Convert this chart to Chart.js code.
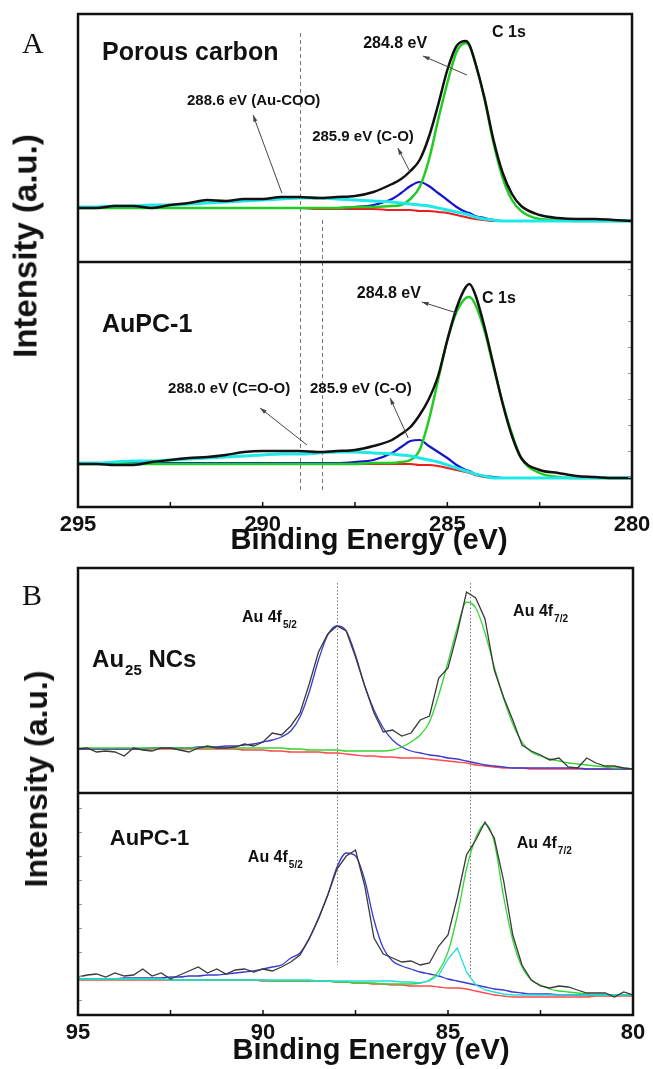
<!DOCTYPE html>
<html>
<head>
<meta charset="utf-8">
<script src="https://cdn.jsdelivr.net/npm/chart.js@4.4.1/dist/chart.umd.min.js"></script>
<style>
  body { margin: 0; background: #fff; }
  #wrap { position: relative; width: 653px; height: 1069px; overflow: hidden; }
  canvas { position: absolute; left: 0; }
  .ytitle { position: absolute; white-space: nowrap; font-family: 'Liberation Sans', Arial, sans-serif; font-weight: bold; line-height: 1; color: #111;
            transform: translate(-50%, -50%) rotate(-90deg); }
</style>
</head>
<body>
<div id="wrap">
  <canvas id="aTop" width="653" height="262" style="top:0px"></canvas>
  <canvas id="aBot" width="653" height="300" style="top:262px"></canvas>
  <canvas id="bTop" width="653" height="253" style="top:540px"></canvas>
  <canvas id="bBot" width="653" height="276" style="top:793px"></canvas>
  <div class="ytitle" style="left:25px;top:246px;font-size:33px">Intensity (a.u.)</div>
  <div class="ytitle" style="left:36px;top:779px;font-size:32px">Intensity (a.u.)</div>
</div>
<script>
// ---- panel A: C 1s ----
const energyA = [295, 294.5, 294, 293.5, 293, 292.5, 292, 291.5, 291, 290.5, 290, 289.5, 289, 288.5, 288, 287.5,
  287, 286.5, 286.25, 286, 285.75, 285.5, 285.25, 285, 284.75, 284.5, 284.4, 284.25, 284, 283.75, 283.5, 283.25, 283,
  282.5, 282, 281.5, 281, 280.5, 280];

const aTopBlack = [54,54,56,56,54,57,59,62,61,63,63,65,65,64,65,66, 70,78,83,91,102,125,157,192,216,221,217,200,165,122,89,68,56, 47,44,43,43,42,41];
const aTopCyan  = [55,55,56,56,57,57,58,59,60,61,62,63,64,64,63,62, 61,60,59,58,57,56,54,52,50,48,47,45,43,42,41,41,41, 41,41,41,41,41,41];
const aTopGreen = [54,54,54,54,54,54,54,54,54,54,54,54,54,54,54,55, 55,56,57,63,75,102,142,179,210,219,216,200,164,119,84,62,51, 43,42,41,41,41,41];
const aTopBlue  = [54,54,54,54,54,54,54,54,54,54,54,54,54,54,54,55, 57,63,69,76,80,76,69,62,55,50,49,46,44,42,41,41,41, 41,41,41,41,41,41];
const aTopRed   = [54,54,54,54,54,54,54,54,54,54,54,54,54,53,53,53, 53,52,52,52,51,51,50,49,47,45,44,43,42,41,41,41,41, 41,41,41,41,41,41];

const aBotBlack = [43,43,42,42,45,47,49,50,52,55,56,56,56,55,56,57, 61,67,73,80,92,108,131,167,199,220,223,213,181,142,103,71,49, 37,34,31,30,29,29];
const aBotCyan  = [44,44,45,46,46,47,48,49,50,51,52,53,53,54,55,55, 54,53,52,51,49,47,45,42,39,36,35,33,31,29,29,29,29, 29,29,29,29,29,29];
const aBotGreen = [43,43,43,43,43,43,43,43,43,43,43,43,43,43,43,43, 44,44,45,47,57,87,127,167,195,209,210,203,177,140,104,73,49, 34,30,29,29,29,29];
const aBotBlue  = [44,44,44,44,44,44,44,44,44,44,44,44,44,44,44,45, 47,54,60,66,67,61,55,49,42,37,36,33,31,30,29,29,29, 29,29,29,29,29,29];
const aBotRed   = [43,43,43,43,43,43,43,43,43,43,43,43,43,43,43,43, 43,43,43,43,42,42,41,39,37,35,34,32,30,29,29,29,29, 29,29,29,29,29,29];

const ticksA = [295, 292.5, 290, 287.5, 285, 282.5, 280];
const tickLabelsA = [295, 290, 285, 280];
const minorYA = [30, 56, 82, 108, 134, 160, 186, 212, 238];

// ---- panel B: Au 4f ----
const energyB = [95, 94.75, 94.5, 94.25, 94, 93.75, 93.5, 93.25, 93, 92.75, 92.5, 92.25, 92, 91.75, 91.5, 91.25,
  91, 90.75, 90.5, 90.25, 90, 89.75, 89.5, 89.25, 89, 88.75, 88.5, 88.25, 88, 87.75, 87.5, 87.25, 87, 86.75, 86.5, 86.25,
  86, 85.75, 85.5, 85.25, 85, 84.75, 84.5, 84.25, 84, 83.75, 83.5, 83.25, 83, 82.75, 82.5, 82.25, 82, 81.75, 81.5, 81.25,
  81, 80.75, 80.5, 80.25, 80];

const bTopBlack = [44,45,41,42,41,37,45,43,42,45, 45,43,41,45,47,45,45,46,49,47, 51,60,58,67,80,109,141,159,167,162,
  136,107,80,61,63,57,60,73,77,115, 125,160,201,195,174,123,96,73,48,42, 38,33,35,26,25,35,30,27,27,25,24];
const bTopGreen = [45,45,45,45,45,45,45,45,45,45, 45,45,45,45,45,45,45,45,45,45, 45,45,45,44,44,43,43,43,43,42,
  42,42,42,42,43,46,51,58,71,98, 131,165,191,185,160,126,95,69,51,41, 37,34,32,30,29,28,27,26,25,25,24];
const bTopBlue  = [44,44,44,44,44,44,44,44,45,45, 45,45,45,46,46,46,47,47,48,49, 51,53,56,62,76,101,133,158,167,162,
  138,107,83,65,53,46,42,40,38,37, 35,34,32,30,28,27,26,25,25,25, 25,25,25,25,25,24,24,24,24,24,24];
const bTopRed   = [44,44,44,44,44,44,44,44,44,44, 44,44,44,44,44,44,44,44,43,43, 43,42,42,41,41,41,41,40,40,39,
  38,37,37,36,36,35,35,35,34,33, 32,31,30,28,27,26,25,25,25,24, 24,24,24,24,24,24,24,24,24,24,24];

const bBotBlack = [38,40,41,38,42,39,40,46,39,42, 36,40,44,48,42,46,41,45,46,43, 46,44,48,53,60,76,96,120,146,159,
  165,129,77,61,57,53,54,50,52,69, 80,117,160,175,193,177,135,80,50,35, 29,27,29,28,25,22,22,22,18,23,20];
const bBotCyan  = [36,36,36,36,36,36,36,36,36,36, 35,35,35,35,35,35,35,35,35,35, 35,35,35,35,35,35,34,34,34,34,
  34,34,34,34,34,33,33,32,34,40, 56,67,43,30,25,23,21,20,20,20, 20,20,20,20,20,20,20,20,20,20,20];
const bBotGreen = [36,36,36,36,36,36,36,36,36,36, 35,35,35,35,35,35,35,35,35,35, 35,34,34,34,34,34,34,34,33,33,
  32,32,32,31,31,31,31,32,35,44, 63,99,146,177,191,173,119,75,48,35, 30,26,24,23,22,21,20,20,20,20,20];
const bBotBlue  = [36,36,36,36,36,37,37,37,37,37, 38,38,39,39,40,40,41,42,43,44, 46,48,50,57,62,77,97,120,148,162,
  159,135,95,67,54,49,46,43,41,39, 36,34,32,30,28,26,25,23,22,21, 21,21,20,20,20,20,20,20,20,20,20];
const bBotRed   = [35,35,35,35,35,35,35,35,35,35, 35,35,35,35,35,35,35,35,35,35, 34,34,34,34,34,34,34,34,33,33,
  32,32,31,31,30,30,29,29,29,28, 27,27,26,24,22,20,19,18,18,18, 18,18,18,18,18,18,19,19,19,19,19];

const ticksB = [95, 92.5, 90, 87.5, 85, 82.5, 80];
const tickLabelsB = [95, 90, 85, 80];
const minorYB = [15, 39, 63, 87, 111, 135, 159, 183, 207];

const FONT = "'Liberation Sans', Arial, sans-serif";

// frame, ticks, reference lines, labels and arrows, all placed through the chart scales
const decor = {
  id: 'decor',
  beforeDatasetsDraw(chart, args, o) {
    const { ctx, scales: { x, y } } = chart;
    ctx.save();
    ctx.strokeStyle = o.refColor || '#777';
    ctx.lineWidth = 1;
    ctx.setLineDash(o.refDash || [4, 3]);
    (o.refs || []).forEach(r => {
      const px = Math.round(x.getPixelForValue(r.e)) + 0.5;
      ctx.beginPath();
      ctx.moveTo(px, y.getPixelForValue(r.from));
      ctx.lineTo(px, y.getPixelForValue(r.to));
      ctx.stroke();
    });
    ctx.restore();
  },
  afterDatasetsDraw(chart, args, o) {
    const { ctx, chartArea: a, scales: { x, y } } = chart;
    ctx.save();

    // faint inner y ticks on one side
    if (o.yTicks) {
      ctx.strokeStyle = '#999';
      ctx.lineWidth = 1;
      const edge = o.yTickSide === 'right' ? a.right : a.left;
      const dir = o.yTickSide === 'right' ? -1 : 1;
      o.yTicks.forEach(v => {
        const py = Math.round(y.getPixelForValue(v)) + 0.5;
        ctx.beginPath();
        ctx.moveTo(edge, py);
        ctx.lineTo(edge + dir * 4, py);
        ctx.stroke();
      });
    }

    ctx.strokeStyle = '#111';
    ctx.lineWidth = 2.5;
    ctx.strokeRect(a.left, a.top, a.right - a.left, a.bottom - a.top);

    if (o.ticks) {
      ctx.lineWidth = 1.5;
      o.ticks.forEach(t => {
        const px = x.getPixelForValue(t);
        ctx.beginPath();
        ctx.moveTo(px, a.bottom);
        ctx.lineTo(px, a.bottom - 5);
        ctx.stroke();
      });
      ctx.fillStyle = '#111';
      ctx.textAlign = 'center';
      ctx.textBaseline = 'alphabetic';
      ctx.font = 'bold 22px ' + FONT;
      o.tickLabels.forEach(t => ctx.fillText(String(t), x.getPixelForValue(t), a.bottom + 24));
      ctx.font = 'bold 29px ' + FONT;
      ctx.fillText('Binding Energy (eV)', o.titleX, a.bottom + o.titleDy);
    }

    ctx.strokeStyle = '#444';
    ctx.fillStyle = '#444';
    ctx.lineWidth = 1;
    (o.arrows || []).forEach(([e0, v0, e1, v1]) => {
      const x0 = x.getPixelForValue(e0), y0 = y.getPixelForValue(v0);
      const x1 = x.getPixelForValue(e1), y1 = y.getPixelForValue(v1);
      const ang = Math.atan2(y1 - y0, x1 - x0);
      ctx.beginPath();
      ctx.moveTo(x0, y0);
      ctx.lineTo(x1, y1);
      ctx.stroke();
      ctx.beginPath();
      ctx.moveTo(x1, y1);
      ctx.lineTo(x1 - 7 * Math.cos(ang - 0.3), y1 - 7 * Math.sin(ang - 0.3));
      ctx.lineTo(x1 - 7 * Math.cos(ang + 0.3), y1 - 7 * Math.sin(ang + 0.3));
      ctx.closePath();
      ctx.fill();
    });

    ctx.fillStyle = '#111';
    ctx.textAlign = 'left';
    (o.notes || []).forEach(n => {
      let px = x.getPixelForValue(n.e);
      const py = y.getPixelForValue(n.v);
      ctx.font = 'bold ' + n.size + 'px ' + FONT;
      ctx.fillText(n.t, px, py);
      if (n.sub) {
        px += ctx.measureText(n.t).width + 1;
        ctx.font = 'bold ' + n.subSize + 'px ' + FONT;
        ctx.fillText(n.sub, px, py + n.subDy);
        if (n.after) {
          px += ctx.measureText(n.sub).width;
          ctx.font = 'bold ' + n.size + 'px ' + FONT;
          ctx.fillText(n.after, px, py);
        }
      }
    });

    if (o.letter) {
      ctx.font = '30px "Liberation Serif", "Times New Roman", serif';
      ctx.fillText(o.letter.t, o.letter.x, o.letter.y);
    }
    ctx.restore();
  }
};

function line(data, energies, color, width, smooth) {
  return {
    data: data.map((v, i) => ({ x: energies[i], y: v })),
    borderColor: color,
    borderWidth: width,
    pointRadius: 0,
    fill: false,
    cubicInterpolationMode: smooth ? 'monotone' : 'default',
    tension: smooth ? 0.4 : 0
  };
}

function plot(id, datasets, xr, yMax, pad, decorOpts) {
  return new Chart(document.getElementById(id), {
    type: 'line',
    data: { datasets },
    options: {
      responsive: false,
      animation: false,
      devicePixelRatio: 1,
      layout: { padding: pad },
      scales: {
        x: { type: 'linear', min: xr[0], max: xr[1], reverse: true, display: false },
        y: { min: 0, max: yMax, display: false }
      },
      plugins: { legend: { display: false }, tooltip: { enabled: false }, decor: decorOpts }
    },
    plugins: [decor]
  });
}

// colours of panel A are saturated and heavy, panel B thin
const A = { black: '#111111', cyan: '#1ee8e8', green: '#22cc22', blue: '#1515cc', red: '#ee1c1c' };
const B = { black: '#3a3a3a', cyan: '#22dddd', green: '#33d633', blue: '#3a3ad0', red: '#ff4a4a' };

plot('aTop', [
  line(aTopBlack, energyA, A.black, 2.5, true),
  line(aTopCyan, energyA, A.cyan, 3, true),
  line(aTopGreen, energyA, A.green, 2.5, true),
  line(aTopBlue, energyA, A.blue, 2.2, true),
  line(aTopRed, energyA, A.red, 2, true)
], [280, 295], 248, { top: 14, left: 78, right: 21, bottom: 0 }, {
  refs: [{ e: 289.0, from: 229, to: 0 }, { e: 288.4, from: 42, to: 0 }],
  notes: [
    { t: 'Porous carbon', e: 294.35, v: 202, size: 25 },
    { t: '288.6 eV (Au-COO)', e: 292.05, v: 157, size: 15 },
    { t: '285.9 eV (C-O)', e: 288.66, v: 121, size: 15 },
    { t: '284.8 eV', e: 287.28, v: 214, size: 16 },
    { t: 'C 1s', e: 283.79, v: 225, size: 16 }
  ],
  arrows: [[289.48, 69, 290.26, 147], [286.01, 90, 286.34, 114], [284.47, 187, 285.66, 206]],
  letter: { t: 'A', x: 22, y: 53 }
});

plot('aBot', [
  line(aBotBlack, energyA, A.black, 2.5, true),
  line(aBotCyan, energyA, A.cyan, 3, true),
  line(aBotGreen, energyA, A.green, 2.5, true),
  line(aBotBlue, energyA, A.blue, 2.2, true),
  line(aBotRed, energyA, A.red, 2, true)
], [280, 295], 245, { top: 0, left: 78, right: 21, bottom: 55 }, {
  refs: [{ e: 289.0, from: 245, to: 14 }, { e: 288.4, from: 245, to: 14 }],
  notes: [
    { t: 'AuPC-1', e: 294.35, v: 175, size: 25 },
    { t: '284.8 eV', e: 287.45, v: 209, size: 16 },
    { t: 'C 1s', e: 284.06, v: 204, size: 16 },
    { t: '285.9 eV (C-O)', e: 288.72, v: 114, size: 15 },
    { t: '288.0 eV (C=O-O)', e: 292.56, v: 114, size: 15 }
  ],
  arrows: [[284.74, 194, 285.69, 205], [288.8, 62, 290.07, 99], [286.06, 69, 286.55, 109]],
  ticks: ticksA, tickLabels: tickLabelsA, titleX: 369, titleDy: 42,
  yTicks: minorYA, yTickSide: 'right'
});

plot('bTop', [
  line(bTopBlack, energyB, B.black, 1.3, false),
  line(bTopGreen, energyB, B.green, 1.3, true),
  line(bTopBlue, energyB, B.blue, 1.3, true),
  line(bTopRed, energyB, B.red, 1.3, true)
], [80, 95], 225, { top: 28, left: 78, right: 20, bottom: 0 }, {
  refs: [{ e: 88.0, from: 210, to: 0 }, { e: 84.4, from: 210, to: 0 }],
  refDash: [1.5, 2],
  notes: [
    { t: 'Au', sub: '25', after: ' NCs', e: 94.62, v: 126, size: 24, subSize: 15, subDy: 8 },
    { t: 'Au 4f', sub: '5/2', e: 90.57, v: 171, size: 16, subSize: 10, subDy: 6 },
    { t: 'Au 4f', sub: '7/2', e: 83.24, v: 177, size: 16, subSize: 10, subDy: 6 }
  ],
  letter: { t: 'B', x: 22, y: 65 }
});

plot('bBot', [
  line(bBotBlack, energyB, B.black, 1.3, false),
  line(bBotCyan, energyB, B.cyan, 1.3, false),
  line(bBotGreen, energyB, B.green, 1.3, true),
  line(bBotBlue, energyB, B.blue, 1.3, true),
  line(bBotRed, energyB, B.red, 1.3, true)
], [80, 95], 222, { top: 0, left: 78, right: 20, bottom: 54 }, {
  refs: [{ e: 88.0, from: 222, to: 50 }, { e: 84.4, from: 222, to: 38 }],
  refDash: [1.5, 2],
  notes: [
    { t: 'AuPC-1', e: 94.14, v: 170, size: 22 },
    { t: 'Au 4f', sub: '5/2', e: 90.41, v: 153, size: 16, subSize: 10, subDy: 6 },
    { t: 'Au 4f', sub: '7/2', e: 83.14, v: 167, size: 16, subSize: 10, subDy: 6 }
  ],
  ticks: ticksB, tickLabels: tickLabelsB, titleX: 371, titleDy: 44,
  yTicks: minorYB, yTickSide: 'left'
});
</script>
</body>
</html>
